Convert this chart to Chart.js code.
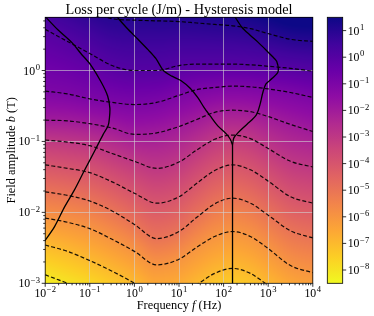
<!DOCTYPE html>
<html>
<head>
<meta charset="utf-8">
<script src="https://cdn.jsdelivr.net/npm/chart.js@4.4.1/dist/chart.umd.min.js"></script>
<style>
  html, body { margin: 0; padding: 0; background: #fff; }
  canvas { display: block; }
</style>
</head>
<body>
<canvas id="chart" width="374" height="316"></canvas>
<script>
// --- DATA ---
// frequencies (log10 Hz) where the iso-loss lines were read
const freqLog = [-2, -1.5, -1, -0.5, 0, 0.5, 1, 1.4, 1.8, 2.2, 2.6, 3, 3.5, 4];
// loss levels of the dashed lines, log10 (J/m)
const levelExp = [-8, -7, -6, -5, -4, -3, -2, -1, 0, 1];

// log10 b (T) of each iso-loss line at freqLog
const isoM8 = [-2.88, -3.00, -3.12, -3.28, -3.46, -3.70, -3.66, -3.49, -3.33, -3.29, -3.36, -3.53, -3.74, -3.87];
const isoM7 = [-2.46, -2.55, -2.68, -2.83, -3.00, -3.22, -3.18, -3.02, -2.86, -2.79, -2.86, -3.03, -3.24, -3.36];
const isoM6 = [-2.08, -2.14, -2.23, -2.38, -2.55, -2.74, -2.66, -2.49, -2.34, -2.27, -2.34, -2.51, -2.75, -2.85];
const isoM5 = [-1.71, -1.76, -1.84, -1.98, -2.17, -2.37, -2.27, -2.07, -1.88, -1.80, -1.87, -2.04, -2.26, -2.36];
const isoM4 = [-1.33, -1.38, -1.44, -1.57, -1.73, -1.87, -1.78, -1.59, -1.41, -1.33, -1.40, -1.56, -1.78, -1.87];
const isoM3 = [-0.98, -1.01, -1.06, -1.17, -1.28, -1.38, -1.29, -1.12, -0.97, -0.91, -0.96, -1.10, -1.28, -1.36];
const isoM2 = [-0.70, -0.71, -0.75, -0.81, -0.90, -0.88, -0.79, -0.69, -0.59, -0.56, -0.58, -0.65, -0.76, -0.86];
const isoM1 = [-0.29, -0.33, -0.40, -0.45, -0.48, -0.45, -0.35, -0.27, -0.24, -0.22, -0.23, -0.26, -0.31, -0.38];
const iso0  = [0.58, 0.41, 0.24, 0.07, 0.00, 0.00, 0.07, 0.09, 0.09, 0.09, 0.08, 0.06, 0.03, -0.01];
const iso1  = [1.13, 0.99, 0.85, 0.73, 0.71, 0.70, 0.69, 0.67, 0.65, 0.63, 0.59, 0.52, 0.44, 0.41];

// solid boundary lines (log10 f, log10 b)
const edge1F = [-2.03, -1.71, -1.41, -1.20, -0.97, -0.74, -0.60, -0.55, -0.56, -0.59, -0.70, -0.88, -1.13, -1.35, -1.58, -1.79, -2.03];
const edge1B = [0.78, 0.57, 0.40, 0.24, 0.07, -0.17, -0.36, -0.53, -0.67, -0.78, -0.90, -1.12, -1.42, -1.69, -1.94, -2.20, -2.42];
const edge2F = [-0.44, -0.17, 0.08, 0.31, 0.48, 0.65, 0.84, 1.04, 1.25, 1.43, 1.56, 1.70, 1.87, 2.07, 2.15, 2.20];
const edge2B = [0.79, 0.60, 0.44, 0.29, 0.17, 0.00, -0.08, -0.14, -0.25, -0.39, -0.52, -0.64, -0.78, -0.90, -0.97, -1.05];
const edge3F = [2.22, 2.41, 2.59, 2.77, 2.95, 3.09, 3.19, 3.22, 3.09, 2.95, 2.88, 2.82, 2.73, 2.52, 2.32, 2.23, 2.20];
const edge3B = [0.79, 0.61, 0.50, 0.40, 0.29, 0.20, 0.13, -0.02, -0.11, -0.19, -0.31, -0.47, -0.63, -0.76, -0.88, -0.95, -1.05];
const edge4F = [2.20, 2.20];
const edge4B = [-1.05, -3.10];

// axes
const xDecades = [-2, -1, 0, 1, 2, 3, 4];
const yDecades = [-3, -2, -1, 0];
const cbarDecades = [-8, -7, -6, -5, -4, -3, -2, -1, 0, 1];
const yTopLog = 0.75;
const colorMin = -8.5, colorMax = 1.5;

// plasma colormap stops
const plasma = [
  [13, 8, 135], [65, 4, 157], [106, 0, 168], [143, 13, 164], [177, 42, 144],
  [204, 71, 120], [225, 100, 98], [242, 132, 75], [252, 166, 54], [252, 206, 37], [240, 249, 33]
];

const isoLines = [isoM8, isoM7, isoM6, isoM5, isoM4, isoM3, isoM2, isoM1, iso0, iso1];
const SERIF = '"Liberation Serif", "DejaVu Serif", serif';

// --- HELPERS ---
const plasmaAt = (t) => {
  t = Math.min(1, Math.max(0, t)) * (plasma.length - 1);
  const i = Math.min(plasma.length - 2, Math.floor(t));
  const u = t - i, a = plasma[i], b = plasma[i + 1];
  return [a[0] + (b[0] - a[0]) * u, a[1] + (b[1] - a[1]) * u, a[2] + (b[2] - a[2]) * u];
};
// low loss = yellow, high loss = dark blue
const lossColor = (lv) => plasmaAt(1 - (lv - colorMin) / (colorMax - colorMin));

// monotone cubic (same idea as Chart.js 'monotone')
const monoTangents = (xs, ys) => {
  const n = xs.length, d = [], m = new Array(n);
  for (let i = 0; i < n - 1; i++) d.push((ys[i + 1] - ys[i]) / (xs[i + 1] - xs[i]));
  m[0] = d[0]; m[n - 1] = d[n - 2];
  for (let i = 1; i < n - 1; i++) m[i] = (Math.sign(d[i - 1]) !== Math.sign(d[i])) ? 0 : (d[i - 1] + d[i]) / 2;
  for (let i = 0; i < n - 1; i++) {
    if (Math.abs(d[i]) < 1e-12) { m[i] = m[i + 1] = 0; continue; }
    const a = m[i] / d[i], b = m[i + 1] / d[i], s = a * a + b * b;
    if (s > 9) { const tau = 3 / Math.sqrt(s); m[i] = tau * a * d[i]; m[i + 1] = tau * b * d[i]; }
  }
  return m;
};
const hermite = (xs, ys, ms, x) => {
  let i = 0;
  if (x <= xs[0]) return ys[0];
  if (x >= xs[xs.length - 1]) return ys[ys.length - 1];
  while (x > xs[i + 1]) i++;
  const h = xs[i + 1] - xs[i], t = (x - xs[i]) / h, t2 = t * t, t3 = t2 * t;
  return (2 * t3 - 3 * t2 + 1) * ys[i] + (t3 - 2 * t2 + t) * h * ms[i] + (-2 * t3 + 3 * t2) * ys[i + 1] + (t3 - t2) * h * ms[i + 1];
};
const isoTangents = isoLines.map(arr => monoTangents(freqLog, arr));

// loss level at log b, given the line positions in one column
const levelAt = (lbs, lb) => {
  const n = lbs.length;
  if (lb <= lbs[0]) return levelExp[0] + (lb - lbs[0]) / (lbs[1] - lbs[0]);
  if (lb >= lbs[n - 1]) return levelExp[n - 1] + (lb - lbs[n - 1]) / (lbs[n - 1] - lbs[n - 2]);
  for (let k = 0; k < n - 1; k++) {
    if (lb < lbs[k + 1]) return levelExp[k] + (lb - lbs[k]) / (lbs[k + 1] - lbs[k]);
  }
  return levelExp[n - 1];
};

const toPts = (fs, bs) => fs.map((f, i) => ({ x: 10 ** f, y: 10 ** bs[i] }));

function powLabel(ctx, k, x, y, align) {
  const exp = k < 0 ? '\u2212' + (-k) : String(k);
  ctx.font = `11.8px ${SERIF}`;
  const wb = ctx.measureText('10').width;
  ctx.font = `8.6px ${SERIF}`;
  const we = ctx.measureText(exp).width;
  const total = wb + we + 0.6;
  const sx = align === 'center' ? x - total / 2 : align === 'right' ? x - total : x;
  ctx.textAlign = 'left';
  ctx.textBaseline = 'alphabetic';
  ctx.font = `11.8px ${SERIF}`;
  ctx.fillText('10', sx, y);
  ctx.font = `8.6px ${SERIF}`;
  ctx.fillText(exp, sx + wb + 0.6, y - 4.8);
}

function richText(ctx, parts, x, y, size) {
  const fontOf = (it) => `${it ? 'italic ' : ''}${size}px ${SERIF}`;
  let total = 0;
  parts.forEach(([t, it]) => { ctx.font = fontOf(it); total += ctx.measureText(t).width; });
  let cx = x - total / 2;
  ctx.textAlign = 'left';
  ctx.textBaseline = 'alphabetic';
  parts.forEach(([t, it]) => { ctx.font = fontOf(it); ctx.fillText(t, cx, y); cx += ctx.measureText(t).width; });
}

// --- PLUGINS ---
const heatmapPlugin = {
  id: 'heatmap',
  beforeDraw(chart) {
    const { ctx, chartArea: a, scales: { x, y } } = chart;
    const w = Math.round(a.right - a.left), h = Math.round(a.bottom - a.top);
    const off = document.createElement('canvas');
    off.width = w; off.height = h;
    const octx = off.getContext('2d');
    const img = octx.createImageData(w, h);
    const rowLog = [];
    for (let j = 0; j < h; j++) rowLog.push(Math.log10(y.getValueForPixel(a.top + (j + 0.5) * (a.bottom - a.top) / h)));
    for (let i = 0; i < w; i++) {
      const lf = Math.log10(x.getValueForPixel(a.left + (i + 0.5) * (a.right - a.left) / w));
      const lbs = isoLines.map((arr, k) => hermite(freqLog, arr, isoTangents[k], lf));
      for (let j = 0; j < h; j++) {
        const c = lossColor(levelAt(lbs, rowLog[j]));
        const p = (j * w + i) * 4;
        img.data[p] = c[0]; img.data[p + 1] = c[1]; img.data[p + 2] = c[2]; img.data[p + 3] = 255;
      }
    }
    octx.putImageData(img, 0, 0);
    ctx.drawImage(off, a.left, a.top, a.right - a.left, a.bottom - a.top);
  }
};

const decorPlugin = {
  id: 'decor',
  afterDraw(chart) {
    const { ctx, chartArea: a, scales: { x, y, cbar } } = chart;
    ctx.save();
    ctx.strokeStyle = '#000';
    ctx.fillStyle = '#000';
    ctx.lineWidth = 0.8;

    // frame
    ctx.strokeRect(a.left, a.top, a.right - a.left, a.bottom - a.top);

    // x ticks
    ctx.beginPath();
    xDecades.forEach((k, idx) => {
      const px = x.getPixelForValue(10 ** k);
      ctx.moveTo(px, a.bottom); ctx.lineTo(px, a.bottom + 3.5);
      if (idx < xDecades.length - 1) {
        for (let m = 2; m <= 9; m++) {
          const mx = x.getPixelForValue(m * 10 ** k);
          ctx.moveTo(mx, a.bottom); ctx.lineTo(mx, a.bottom + 2);
        }
      }
    });
    // y ticks
    yDecades.forEach((k) => {
      const py = y.getPixelForValue(10 ** k);
      ctx.moveTo(a.left, py); ctx.lineTo(a.left - 3.5, py);
      for (let m = 2; m <= 9; m++) {
        const v = m * 10 ** k;
        if (Math.log10(v) > yTopLog) break;
        const my = y.getPixelForValue(v);
        ctx.moveTo(a.left, my); ctx.lineTo(a.left - 2, my);
      }
    });
    ctx.stroke();

    xDecades.forEach((k) => powLabel(ctx, k, x.getPixelForValue(10 ** k), a.bottom + 13.5, 'center'));
    yDecades.forEach((k) => powLabel(ctx, k, a.left - 5.2, y.getPixelForValue(10 ** k) + 4, 'right'));

    // colorbar
    const cbL = 327.3, cbR = 342.7;
    const cbTop = cbar.getPixelForValue(colorMax), cbBot = cbar.getPixelForValue(colorMin);
    const grad = ctx.createLinearGradient(0, cbBot, 0, cbTop);
    for (let s = 0; s <= 20; s++) {
      const c = lossColor(colorMin + (colorMax - colorMin) * s / 20);
      grad.addColorStop(s / 20, `rgb(${c[0] | 0},${c[1] | 0},${c[2] | 0})`);
    }
    ctx.fillStyle = grad;
    ctx.fillRect(cbL, cbTop, cbR - cbL, cbBot - cbTop);
    ctx.fillStyle = '#000';
    ctx.strokeRect(cbL, cbTop, cbR - cbL, cbBot - cbTop);
    ctx.beginPath();
    cbarDecades.forEach((k) => {
      const py = cbar.getPixelForValue(k);
      ctx.moveTo(cbR, py); ctx.lineTo(cbR + 3.5, py);
    });
    ctx.stroke();
    cbarDecades.forEach((k) => powLabel(ctx, k, cbR + 5, cbar.getPixelForValue(k) + 4, 'left'));

    // title and axis labels
    ctx.font = `14.3px ${SERIF}`;
    ctx.textAlign = 'center';
    ctx.textBaseline = 'alphabetic';
    ctx.fillText('Loss per cycle (J/m) - Hysteresis model', (a.left + a.right) / 2, 14);
    richText(ctx, [['Frequency ', false], ['f', true], [' (Hz)', false]], (a.left + a.right) / 2, 308.5, 12.4);
    ctx.save();
    ctx.translate(14.5, (a.top + a.bottom) / 2);
    ctx.rotate(-Math.PI / 2);
    richText(ctx, [['Field amplitude ', false], ['b', true], [' (T)', false]], 0, 0, 12.4);
    ctx.restore();
    ctx.restore();
  }
};

// --- DATASETS ---
const datasets = isoLines.map(arr => ({
  data: toPts(freqLog, arr),
  showLine: true,
  pointRadius: 0,
  borderColor: 'rgba(0,0,0,0.9)',
  borderWidth: 1.2,
  borderDash: [4, 2.2],
  cubicInterpolationMode: 'monotone',
  fill: false
}));
[[edge1F, edge1B, 0.3], [edge2F, edge2B, 0.3], [edge3F, edge3B, 0.3], [edge4F, edge4B, 0]].forEach(([f, b, tension]) => {
  datasets.push({
    data: toPts(f, b),
    showLine: true,
    pointRadius: 0,
    borderColor: '#000',
    borderWidth: 1.3,
    tension,
    fill: false
  });
});

const gridColor = 'rgba(210,210,210,0.75)';

new Chart(document.getElementById('chart'), {
  type: 'scatter',
  data: { datasets },
  options: {
    responsive: false,
    animation: false,
    devicePixelRatio: 1,
    layout: { padding: { left: 45.2, top: 17.3, right: 61.2, bottom: 32.7 } },
    plugins: { legend: { display: false }, tooltip: { enabled: false } },
    scales: {
      x: {
        type: 'logarithmic', min: 1e-2, max: 1e4,
        ticks: { display: false },
        grid: { color: gridColor, lineWidth: 0.8, drawTicks: false },
        border: { display: false },
        afterBuildTicks: (s) => { s.ticks = [-1, 0, 1, 2, 3].map(k => ({ value: 10 ** k })); }
      },
      y: {
        type: 'logarithmic', min: 1e-3, max: 10 ** yTopLog,
        ticks: { display: false },
        grid: { color: gridColor, lineWidth: 0.8, drawTicks: false },
        border: { display: false },
        afterBuildTicks: (s) => { s.ticks = [-2, -1, 0].map(k => ({ value: 10 ** k })); }
      },
      cbar: { type: 'linear', position: 'right', display: false, min: colorMin, max: colorMax }
    }
  },
  plugins: [heatmapPlugin, decorPlugin]
});
</script>
</body>
</html>
